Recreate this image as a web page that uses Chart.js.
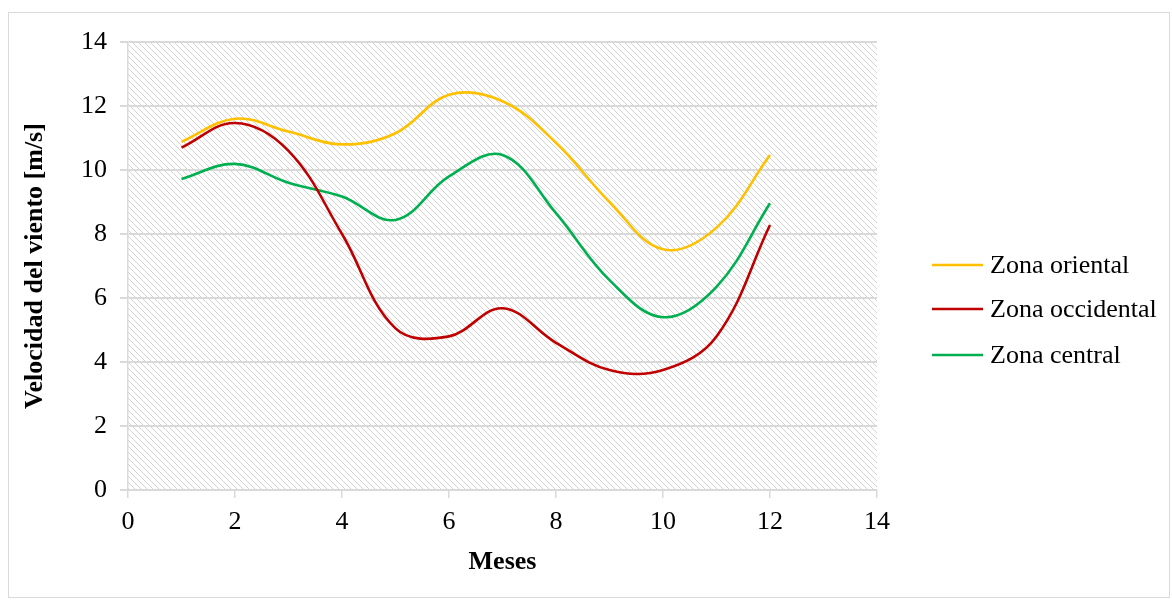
<!DOCTYPE html>
<html>
<head>
<meta charset="utf-8">
<script src="https://cdn.jsdelivr.net/npm/chart.js@4"></script>
<style>
  html, body { margin: 0; padding: 0; background: #fff; }
  #wrap { width: 1172px; height: 600px; }
</style>
</head>
<body>
<div id="wrap"><canvas id="myChart" width="1172" height="600"></canvas></div>
<script>
const meses = [1, 2, 3, 4, 5, 6, 7, 8, 9, 10, 11, 12]
const oriental = [10.88, 11.6, 11.2, 10.8, 11.15, 12.35, 12.15, 10.85, 9.0, 7.52, 8.2, 10.47]
const occidental = [10.7, 11.47, 10.6, 8.0, 5.05, 4.8, 5.68, 4.6, 3.75, 3.75, 4.8, 8.28]
const central = [9.72, 10.19, 9.6, 9.17, 8.44, 9.8, 10.47, 8.65, 6.56, 5.4, 6.35, 8.96]
const nombres = ['Zona oriental', 'Zona occidental', 'Zona central']
const colores = ['#FFC000', '#C00000', '#00B050']

const FONT = "'Liberation Serif', 'Times New Roman', serif"

function toPoints(vals) {
  return meses.map((m, i) => ({x: m, y: vals[i]}))
}

// hatch pattern for the plot area (1px diagonal, like excel's light downward diagonal)
const pc = document.createElement('canvas')
pc.width = 6; pc.height = 6
const pctx = pc.getContext('2d')
pctx.fillStyle = '#d2d2d2'
for (let i = 0; i < 6; i++) {
  pctx.fillRect(i, i, 1, 1)
}

const bgPlugin = {
  id: 'bg',
  beforeDraw(chart) {
    const {ctx, chartArea: a} = chart
    ctx.save()
    ctx.fillStyle = '#fff'
    ctx.fillRect(0, 0, chart.width, chart.height)
    ctx.strokeStyle = '#d9d9d9'
    ctx.lineWidth = 1
    ctx.strokeRect(8.5, 12.5, 1161, 585)
    ctx.fillStyle = ctx.createPattern(pc, 'repeat')
    ctx.fillRect(a.left, a.top, a.right - a.left, a.bottom - a.top)
    ctx.restore()
  },
  afterDraw(chart) {
    // legend on the right
    const ctx = chart.ctx
    ctx.save()
    ctx.font = '26px ' + FONT
    ctx.textBaseline = 'middle'
    ctx.fillStyle = '#000'
    const ys = [265, 309, 355]
    chart.data.datasets.forEach((ds, i) => {
      ctx.strokeStyle = ds.borderColor
      ctx.lineWidth = 2.5
      ctx.beginPath()
      ctx.moveTo(932, ys[i]); ctx.lineTo(983, ys[i])
      ctx.stroke()
      ctx.fillText(ds.label, 990, ys[i] + 1)
    })
    ctx.restore()
  }
}

const series = [oriental, occidental, central]

const myChart = new Chart(
  document.getElementById('myChart'),
  {
    type: 'line',
    data: {
      datasets: series.map((s, i) => ({
        label: nombres[i],
        data: toPoints(s),
        borderColor: colores[i],
        backgroundColor: colores[i],
        borderWidth: 2.6,
        pointRadius: 0,
        tension: 0.38,
        fill: false
      }))
    },
    options: {
      responsive: false,
      animation: false,
      devicePixelRatio: 1,
      layout: {
        padding: {left: 0, top: 42, right: 1172 - 877, bottom: 0}
      },
      plugins: {
        legend: { display: false },
        tooltip: { enabled: false }
      },
      scales: {
        x: {
          type: 'linear',
          min: 0,
          max: 14,
          afterFit: (scale) => { scale.height = 110 },
          ticks: {
            stepSize: 2,
            color: '#000',
            font: { family: FONT, size: 26 },
            padding: 9,
            maxRotation: 0
          },
          grid: {
            drawOnChartArea: false,
            drawTicks: true,
            tickLength: 8,
            color: '#d9d9d9',
            lineWidth: 1.5
          },
          border: { display: true, color: '#d9d9d9', width: 2 },
          title: {
            display: true,
            text: 'Meses',
            color: '#000',
            font: { family: FONT, size: 26, weight: 'bold' },
            padding: { top: 0, bottom: 22 }
          }
        },
        y: {
          min: 0,
          max: 14,
          afterFit: (scale) => { scale.width = 128 },
          ticks: {
            stepSize: 2,
            color: '#000',
            font: { family: FONT, size: 26 },
            padding: 13
          },
          grid: {
            color: '#d9d9d9',
            lineWidth: 2,
            tickLength: 8
          },
          border: { display: true, color: '#d9d9d9', width: 1.5 },
          title: {
            display: true,
            text: 'Velocidad del viento [m/s]',
            color: '#000',
            font: { family: FONT, size: 26, weight: 'bold' },
            padding: { top: 20, bottom: 0 }
          }
        }
      }
    },
    plugins: [bgPlugin]
  }
);
</script>
</body>
</html>
